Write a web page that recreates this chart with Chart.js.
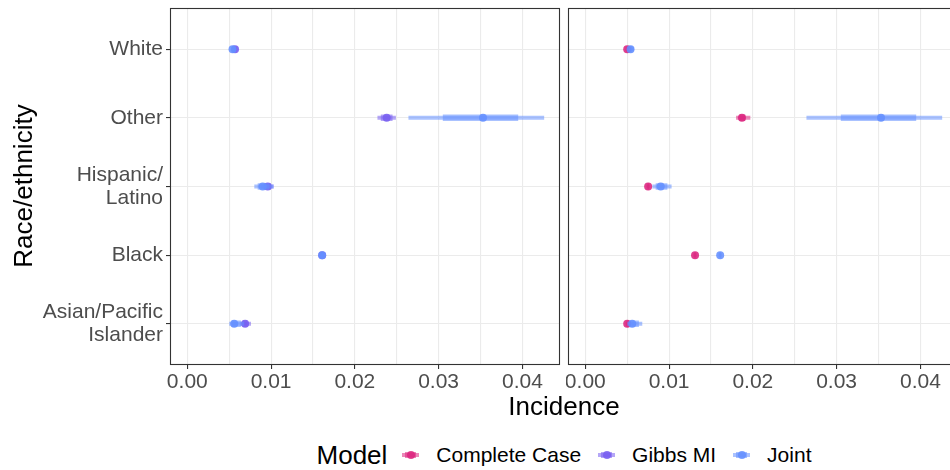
<!DOCTYPE html>
<html>
<head>
<meta charset="utf-8">
<script src="https://cdn.jsdelivr.net/npm/chart.js@4/dist/chart.umd.min.js"></script>
<style>
html,body{margin:0;padding:0;width:950px;height:470px;overflow:hidden;background:#fff;font-family:"Liberation Sans",Arial,sans-serif;}
#c1{position:absolute;left:0;top:0;}
#c2{position:absolute;left:566px;top:0;}
#xtitle{position:absolute;left:264px;width:600px;top:391px;text-align:center;font-size:26px;line-height:30px;color:#000;}
#ytitle{position:absolute;left:-127px;top:171px;width:300px;text-align:center;font-size:26px;line-height:30px;color:#000;transform:rotate(-90deg);}
#legend{position:absolute;left:164px;width:800px;top:438px;height:34px;display:flex;justify-content:center;align-items:center;color:#000;}
#legend .ttl{font-size:26px;margin-right:15px;}
#legend .lbl{font-size:21px;margin-right:17px;}
#legend .lbl:last-child{margin-right:0;}
#legend .key{position:relative;display:inline-block;width:17px;height:8px;margin-right:17px;}
#legend .key i{position:absolute;left:0;right:0;top:2px;height:4px;opacity:.55;}
#legend .key b{position:absolute;left:3px;right:3px;top:1px;height:6px;opacity:.55;}
#legend .key u{position:absolute;left:4.5px;top:0px;width:8px;height:8px;border-radius:50%;opacity:.85;}
</style>
</head>
<body>
<canvas id="c1" width="561" height="400"></canvas>
<canvas id="c2" width="393" height="400"></canvas>
<div id="xtitle">Incidence</div>
<div id="ytitle">Race/ethnicity</div>
<div id="legend">
  <span class="ttl">Model</span>
  <span class="key"><i style="background:#DC267F"></i><b style="background:#DC267F"></b><u style="background:#DC267F"></u></span><span class="lbl">Complete Case</span>
  <span class="key"><i style="background:#785EF0"></i><b style="background:#785EF0"></b><u style="background:#785EF0"></u></span><span class="lbl">Gibbs MI</span>
  <span class="key"><i style="background:#648FFF"></i><b style="background:#648FFF"></b><u style="background:#648FFF"></u></span><span class="lbl">Joint</span>
</div>
<script>
// ---------- data ----------
const categories = ['White', 'Other', 'Hispanic/Latino', 'Black', 'Asian/Pacific Islander'];
const categoryLabels = [['White'], ['Other'], ['Hispanic/', 'Latino'], ['Black'], ['Asian/Pacific', 'Islander']];
const models = ['Complete Case', 'Gibbs MI', 'Joint'];

const ccPoint    = [0.0050, 0.0187, 0.0075, 0.0131, 0.0050];
const ccThickLo  = [0.0049, 0.0184, 0.0074, 0.0130, 0.0049];
const ccThickHi  = [0.0051, 0.0191, 0.0076, 0.0132, 0.0052];
const ccThinLo   = [0.0048, 0.0180, 0.0073, 0.0129, 0.0048];
const ccThinHi   = [0.0052, 0.0197, 0.0077, 0.0133, 0.0053];

const gibbsPoint   = [0.0057, 0.0238, 0.0096, 0.0161, 0.0069];
const gibbsThickLo = [0.0055, 0.0231, 0.0091, 0.0160, 0.0066];
const gibbsThickHi = [0.0059, 0.0245, 0.0100, 0.0162, 0.0072];
const gibbsThinLo  = [0.0054, 0.0227, 0.0088, 0.0159, 0.0063];
const gibbsThinHi  = [0.0060, 0.0249, 0.0103, 0.0163, 0.0076];

const jointPoint   = [0.0054, 0.0353, 0.0090, 0.0161, 0.0056];
const jointThickLo = [0.0053, 0.0305, 0.0084, 0.0160, 0.0053];
const jointThickHi = [0.0056, 0.0395, 0.0098, 0.0162, 0.0064];
const jointThinLo  = [0.0052, 0.0264, 0.0080, 0.0159, 0.0050];
const jointThinHi  = [0.0058, 0.0426, 0.0103, 0.0163, 0.0068];

const leftPanelModels  = ['Gibbs MI', 'Joint'];
const rightPanelModels = ['Complete Case', 'Joint'];

const xTicks = [0, 0.005, 0.01, 0.015, 0.02, 0.025, 0.03, 0.035, 0.04];
const xMajorLabels = ['0.00', '0.01', '0.02', '0.03', '0.04'];

// ---------- styling ----------
const modelColor = {'Complete Case': '220,38,127', 'Gibbs MI': '120,94,240', 'Joint': '100,143,255'};
const modelSeries = {
  'Complete Case': {point: ccPoint, thickLo: ccThickLo, thickHi: ccThickHi, thinLo: ccThinLo, thinHi: ccThinHi},
  'Gibbs MI': {point: gibbsPoint, thickLo: gibbsThickLo, thickHi: gibbsThickHi, thinLo: gibbsThinLo, thinHi: gibbsThinHi},
  'Joint': {point: jointPoint, thickLo: jointThickLo, thickHi: jointThickHi, thinLo: jointThinLo, thinHi: jointThinHi}
};
const X_MIN = -0.002065, X_MAX = 0.04449;

function segData(lo, hi) {
  const out = [];
  categories.forEach((c, i) => {
    out.push({x: lo[i], y: i + 1});
    out.push({x: hi[i], y: i + 1});
    out.push({x: NaN, y: NaN});
  });
  return out;
}

function buildDatasets(panelModels) {
  const ds = [];
  panelModels.forEach(m => {
    const k = models.indexOf(m);
    const s = modelSeries[m];
    const col = modelColor[m];
    ds.push({type: 'line', data: segData(s.thinLo, s.thinHi), borderColor: `rgba(${col},0.55)`, borderWidth: 4,
      borderCapStyle: 'butt', pointRadius: 0, spanGaps: false, order: (2 - k) * 3 + 2});
    ds.push({type: 'line', data: segData(s.thickLo, s.thickHi), borderColor: `rgba(${col},0.55)`, borderWidth: 6.5,
      borderCapStyle: 'butt', pointRadius: 0, spanGaps: false, order: (2 - k) * 3 + 1});
    ds.push({type: 'scatter', data: s.point.map((v, i) => ({x: v, y: i + 1})), backgroundColor: `rgba(${col},0.88)`,
      borderWidth: 0, pointRadius: 4, order: (2 - k) * 3});
  });
  return ds;
}

const panelBorder = {
  id: 'panelBorder',
  afterDraw(chart) {
    const {ctx, chartArea: a} = chart;
    ctx.save();
    ctx.strokeStyle = '#333333';
    ctx.lineWidth = 1.1;
    ctx.strokeRect(a.left + 0.5, a.top + 0.5, a.right - a.left - 1, a.bottom - a.top - 1);
    ctx.restore();
  }
};

function isMajor(v) { return Math.abs(v * 100 - Math.round(v * 100)) < 1e-6; }
function zeroPad(sc) { sc.paddingTop = 0; sc.paddingBottom = 0; sc.paddingLeft = 0; sc.paddingRight = 0; }

function makeChart(id, panelModels, showY) {
  return new Chart(document.getElementById(id), {
    type: 'scatter',
    data: {datasets: buildDatasets(panelModels)},
    plugins: [panelBorder],
    options: {
      responsive: false,
      animation: false,
      events: [],
      layout: {autoPadding: false, padding: {top: 8, right: 1, left: 0, bottom: 0}},
      plugins: {legend: {display: false}, tooltip: {enabled: false}},
      scales: {
        x: {
          type: 'linear', min: X_MIN, max: X_MAX,
          afterBuildTicks: sc => { sc.ticks = xTicks.map(v => ({value: v})); },
          afterFit: sc => { sc.height = 35; zeroPad(sc); },
          border: {display: false},
          grid: {
            color: '#ebebeb', lineWidth: 1.1, tickLength: 4,
            tickColor: ctx => (ctx.tick && isMajor(ctx.tick.value)) ? '#333333' : 'rgba(0,0,0,0)',
            tickWidth: 1.1
          },
          ticks: {
            autoSkip: false, maxRotation: 0, padding: 1, color: '#4d4d4d',
            font: {family: '"Liberation Sans", Arial, sans-serif', size: 21},
            callback: v => isMajor(v) ? xMajorLabels[Math.round(v * 100)] : ''
          }
        },
        y: {
          type: 'linear', min: 0.4, max: 5.6, reverse: true,
          afterBuildTicks: sc => { sc.ticks = categories.map((c, i) => ({value: i + 1})); },
          afterFit: sc => { sc.width = showY ? 170 : 2; zeroPad(sc); },
          border: {display: false},
          grid: {color: '#ebebeb', lineWidth: 1.1, tickLength: 4, drawTicks: showY, tickColor: '#333333', tickWidth: 1.1},
          ticks: {
            display: showY, autoSkip: false, padding: 3, color: '#4d4d4d',
            font: {family: '"Liberation Sans", Arial, sans-serif', size: 21, lineHeight: 1.08},
            callback: v => categoryLabels[v - 1]
          }
        }
      }
    }
  });
}

makeChart('c1', leftPanelModels, true);
makeChart('c2', rightPanelModels, false);
</script>
</body>
</html>
